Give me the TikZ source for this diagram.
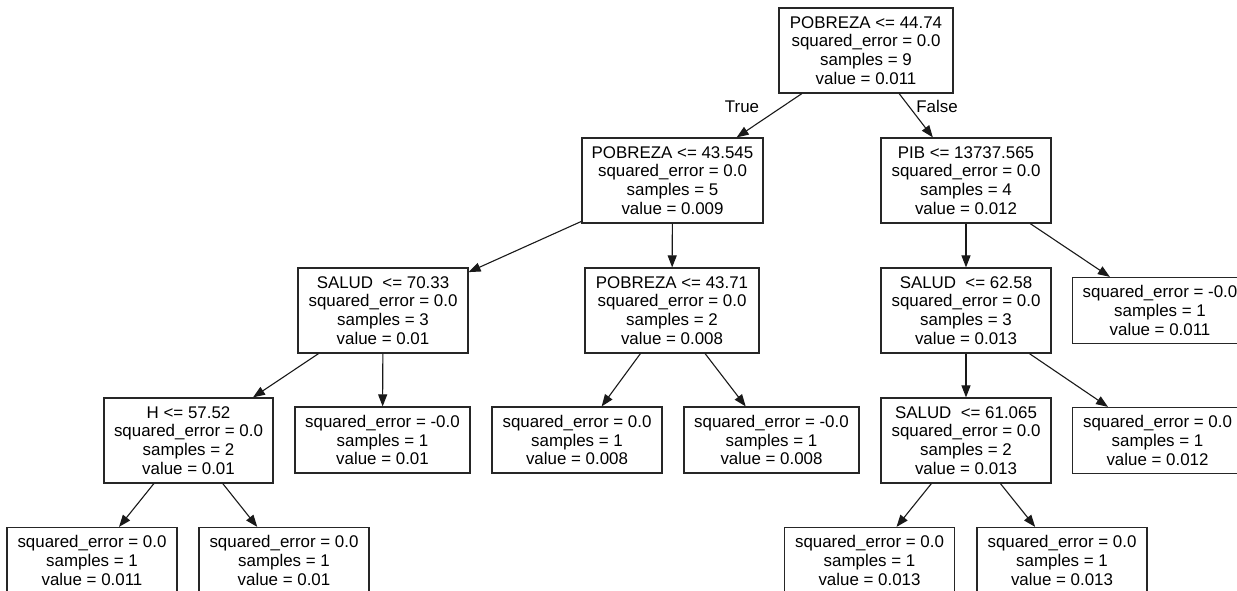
\documentclass[tikz,border=0pt]{standalone}
\usepackage{fontspec}
\setmainfont{Liberation Sans}
\usetikzlibrary{arrows.meta}
\newcommand{\treefont}{\fontsize{16.9pt}{18.7pt}\selectfont}
\tikzset{
  tnode/.style={draw=black!85, line width=1.2pt, rectangle, align=center, font=\treefont, inner sep=0pt, minimum height=85pt},
  leaf/.style={tnode, minimum height=66pt},
  edge/.style={-{Triangle[length=12pt,width=9pt]}, line width=1.1pt, draw=black!90},
  elabel/.style={font=\treefont, inner sep=0pt}
}
\begin{document}
\begin{tikzpicture}[x=1pt,y=-1pt]
\clip (0,0) rectangle (1237,590);
\fill[white] (0,0) rectangle (1237,590);
\node[tnode, minimum width=174pt] (root) at (866,50.5) {POBREZA <= 44.74\\squared\_error = 0.0\\samples = 9\\value = 0.011};
\node[tnode, minimum width=181pt] (n1) at (672.5,180.5) {POBREZA <= 43.545\\squared\_error = 0.0\\samples = 5\\value = 0.009};
\node[tnode, minimum width=170pt] (n2) at (966,180.5) {PIB <= 13737.565\\squared\_error = 0.0\\samples = 4\\value = 0.012};
\node[tnode, minimum width=170pt] (n3) at (383,310.5) {SALUD\ \ <= 70.33\\squared\_error = 0.0\\samples = 3\\value = 0.01};
\node[tnode, minimum width=174pt] (n8) at (672,310.5) {POBREZA <= 43.71\\squared\_error = 0.0\\samples = 2\\value = 0.008};
\node[tnode, minimum width=170pt] (n11) at (966,310.5) {SALUD\ \ <= 62.58\\squared\_error = 0.0\\samples = 3\\value = 0.013};
\node[leaf, minimum width=175pt] (n12) at (1160,310.5) {squared\_error = -0.0\\samples = 1\\value = 0.011};
\node[tnode, minimum width=169pt] (n4) at (188.5,440.5) {H <= 57.52\\squared\_error = 0.0\\samples = 2\\value = 0.01};
\node[leaf, minimum width=175pt] (n5) at (382.5,440) {squared\_error = -0.0\\samples = 1\\value = 0.01};
\node[leaf, minimum width=170pt] (n9) at (577,440) {squared\_error = 0.0\\samples = 1\\value = 0.008};
\node[leaf, minimum width=175pt] (n10) at (771.5,440) {squared\_error = -0.0\\samples = 1\\value = 0.008};
\node[tnode, minimum width=170pt] (n13) at (966,440.5) {SALUD\ \ <= 61.065\\squared\_error = 0.0\\samples = 2\\value = 0.013};
\node[leaf, minimum width=170pt] (n14) at (1157.5,440.5) {squared\_error = 0.0\\samples = 1\\value = 0.012};
\node[leaf, minimum width=170pt] (n6) at (92,560.5) {squared\_error = 0.0\\samples = 1\\value = 0.011};
\node[leaf, minimum width=170pt] (n7) at (284,560.5) {squared\_error = 0.0\\samples = 1\\value = 0.01};
\node[leaf, minimum width=170pt] (n15) at (869.5,560.5) {squared\_error = 0.0\\samples = 1\\value = 0.013};
\node[leaf, minimum width=170pt] (n16) at (1062,560.5) {squared\_error = 0.0\\samples = 1\\value = 0.013};
\node[elabel] (lt) at (742,106.5) {True};
\node[elabel] (lf) at (937,106.5) {False};
\draw[edge] (root) -- (n1);
\draw[edge] (root) -- (n2);
\draw[edge] (n1) -- (n3);
\draw[edge] (n1) -- (n8);
\draw[edge] (n3) -- (n4);
\draw[edge] (n3) -- (n5);
\draw[edge] (n4) -- (n6);
\draw[edge] (n4) -- (n7);
\draw[edge] (n8) -- (n9);
\draw[edge] (n8) -- (n10);
\draw[edge] (n2) -- (n11);
\draw[edge] (n2) -- (n12);
\draw[edge] (n11) -- (n13);
\draw[edge] (n11) -- (n14);
\draw[edge] (n13) -- (n15);
\draw[edge] (n13) -- (n16);
\end{tikzpicture}
\end{document}
